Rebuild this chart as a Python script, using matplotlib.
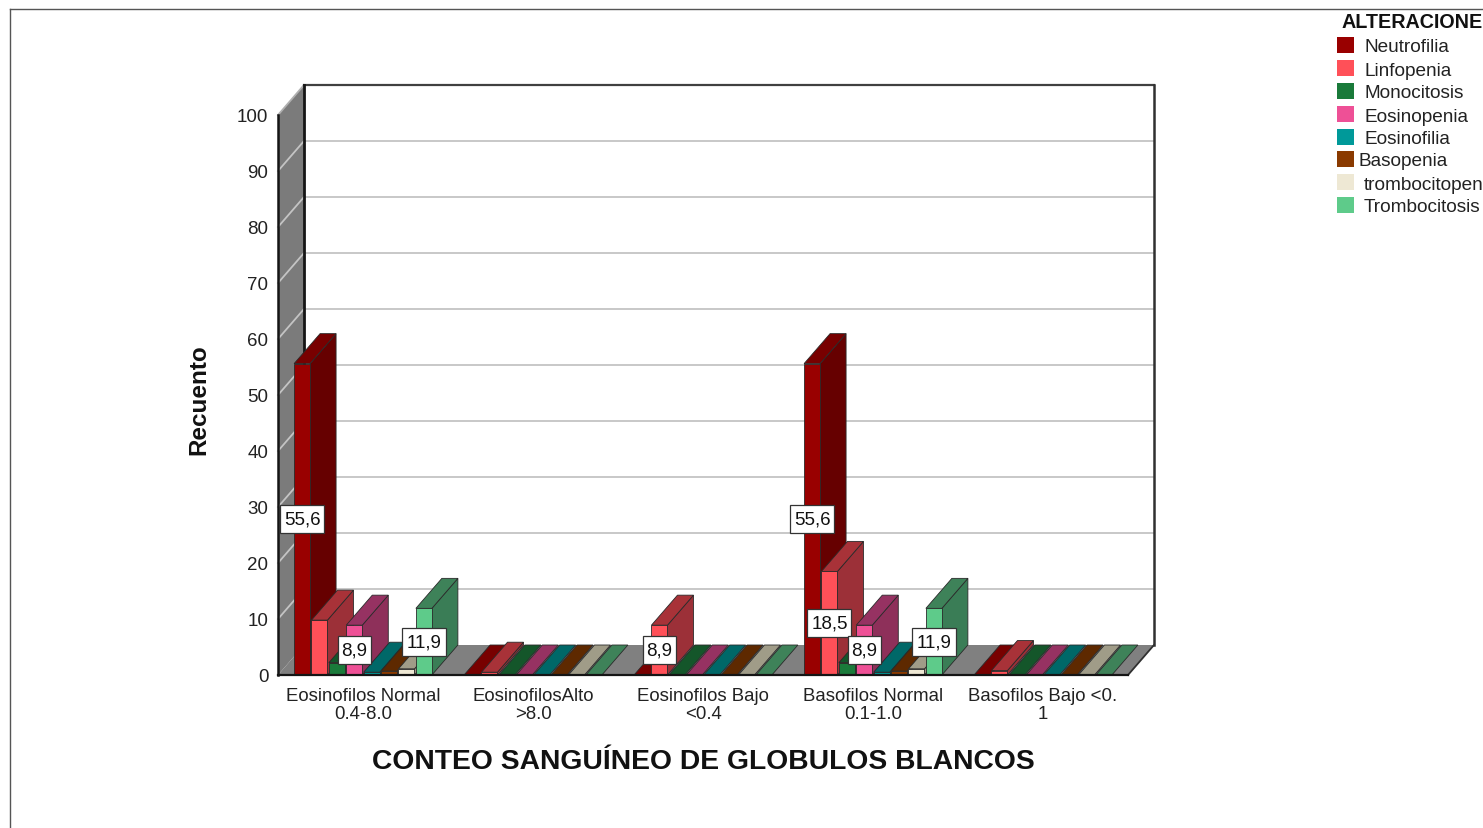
import matplotlib
matplotlib.use("Agg")
import matplotlib.pyplot as plt
from matplotlib.lines import Line2D
from matplotlib.patches import Rectangle

plt.rcParams["font.family"] = ["Liberation Sans", "DejaVu Sans"]

# datos
categorias = ["Eosinofilos Normal\n0.4-8.0", "EosinofilosAlto\n>8.0", "Eosinofilos Bajo\n<0.4",
              "Basofilos Normal\n0.1-1.0", "Basofilos Bajo <0.\n1"]
series = ["Neutrofilia", "Linfopenia", "Monocitosis", "Eosinopenia", "Eosinofilia",
          "Basopenia", "trombocitopen", "Trombocitosis"]
neutrofilia = [55.6, 0, 0, 55.6, 0]
linfopenia = [9.8, 0.5, 8.9, 18.5, 0.8]
monocitosis = [2.2, 0, 0, 2.2, 0]
eosinopenia = [8.9, 0, 0, 8.9, 0]
eosinofilia = [0.5, 0, 0, 0.5, 0]
basopenia = [0.7, 0, 0, 0.7, 0]
trombocitopenia = [1.1, 0, 0, 1.1, 0]
trombocitosis = [11.9, 0, 0, 11.9, 0]
valores = [neutrofilia, linfopenia, monocitosis, eosinopenia, eosinofilia,
           basopenia, trombocitopenia, trombocitosis]

# etiquetas visibles: (serie, categoria)
etiquetas = [(0, 0), (3, 0), (7, 0), (1, 2), (0, 3), (1, 3), (3, 3), (7, 3)]

color_frente = ["#990000", "#ff5058", "#1a7a3a", "#ee5096", "#009999", "#8a3a00", "#eee8d4", "#5ecb8a"]
color_lado = ["#660000", "#9c3038", "#114e26", "#8e305a", "#006262", "#562500", "#99957f", "#3a7d56"]
color_tapa = ["#780000", "#a83238", "#14562a", "#963262", "#006868", "#5e2900", "#a09c88", "#3e8259"]

W, H = 1483, 829
fig = plt.figure(figsize=(W / 100, H / 100), dpi=100)
fig.patch.set_facecolor("white")

# plano frontal del grafico 3D
ax = fig.add_axes([278 / W, 1 - 676 / H, 850 / W, 560 / H])
ax.set_xlim(0, 5)
ax.set_ylim(0, 100)
ax.patch.set_visible(False)
for s in ax.spines.values():
    s.set_visible(False)

DX = 26 / 170  # profundidad en unidades de datos
DY = 30 / 5.6
PASO = 17.4 / 170
ANCHO = 16 / 170
DESPLAZA = 0.004


def poligono(xs, ys, color, edge="#2a2a2a", lw=0.6, z=1):
    ax.fill(xs, ys, facecolor=color, edgecolor=edge, linewidth=lw, clip_on=False, zorder=z)


def linea(xs, ys, color, lw=1.5, z=1.5):
    ax.plot(xs, ys, color=color, linewidth=lw, clip_on=False, zorder=z, solid_capstyle="projecting")


# paredes y piso
poligono([0, DX, DX, 0], [0, DY, 100 + DY, 100], "#7b7b7b", edge="none")
poligono([0, DX, 5 + DX, 5], [0, DY, DY, 0], "#808080", edge="none")

ticks = list(range(0, 101, 10))
for t in ticks[1:-1]:
    linea([DX, 5 + DX], [t + DY, t + DY], "#c4c4c4", lw=1.3)
    linea([0, DX], [t, t + DY], "#c4c4c4", lw=1.3)
linea([0, DX], [100, 100 + DY], "#b0b0b0", lw=1.3)
linea([DX, 5 + DX], [100 + DY, 100 + DY], "#404040", lw=1.6)
linea([DX, DX], [DY, 100 + DY], "#151515", lw=2)
linea([0, 0], [0, 100], "#151515", lw=1.8)
linea([5 + DX, 5 + DX], [DY, 100 + DY], "#303030", lw=1.8)
linea([5, 5 + DX], [0, DY], "#303030", lw=1.3)

# barras en 3D
z = 3
for c in range(len(categorias)):
    for i in range(len(series)):
        x0 = c + 0.5 + (i - 4) * PASO + DESPLAZA
        x1 = x0 + ANCHO
        v = valores[i][c]
        if v > 0:
            poligono([x1, x1 + DX, x1 + DX, x1], [0, DY, v + DY, v], color_lado[i], z=z)
        poligono([x0, x1, x1 + DX, x0 + DX], [v, v, v + DY, v + DY], color_tapa[i], z=z)
        if v > 0:
            poligono([x0, x1, x1, x0], [0, 0, v, v], color_frente[i], z=z + 0.1)
        z += 0.2

linea([0, 5], [0, 0], "#151515", lw=1.6, z=z)

# cuadros de valor
for i, c in etiquetas:
    v = valores[i][c]
    txt = f"{v:.1f}".replace(".", ",")
    x = c + 0.5 + (i - 4) * PASO + DESPLAZA + ANCHO / 2
    caja_w = 11 * len(txt) / 170
    caja_h = 28 / 5.6
    ax.add_patch(Rectangle((x - caja_w / 2, v / 2 - caja_h / 2), caja_w, caja_h, facecolor="white",
                           edgecolor="#333333", linewidth=0.9, clip_on=False, zorder=z + 1))
    ax.text(x, v / 2, txt, ha="center", va="center", fontsize=13.5, color="#111111",
            zorder=z + 2, clip_on=False)

# ejes
ax.set_yticks(ticks)
ax.set_yticklabels([str(t) for t in ticks], fontsize=13.5, color="#222222")
ax.set_xticks([c + 0.5 for c in range(len(categorias))])
ax.set_xticklabels(categorias, fontsize=13.4, color="#222222", linespacing=1.05)
ax.tick_params(axis="both", length=0)
ax.tick_params(axis="y", pad=7)
ax.tick_params(axis="x", pad=9)

fig.text(199 / W, 1 - 400 / H, "Recuento", rotation=90, ha="center", va="center",
         fontsize=17.5, fontweight="bold", color="#111111")
fig.text(703 / W, 1 - 762 / H, "CONTEO SANGUÍNEO DE GLOBULOS BLANCOS", ha="center", va="center",
         fontsize=20.3, fontweight="bold", color="#111111")

# leyenda
fig.text(1341 / W, 1 - 23 / H, "ALTERACIONE", ha="left", va="center", fontsize=14.2,
         fontweight="bold", color="#111111")
filas_y = [46, 69, 92, 115, 138, 160, 183, 206]
texto_x = [1364, 1364, 1364, 1364, 1364, 1358, 1364, 1364]
for i, nombre in enumerate(series):
    fig.add_artist(Rectangle((1337 / W, 1 - (filas_y[i] + 8) / H), 17 / W, 16 / H,
                             transform=fig.transFigure, facecolor=color_frente[i], edgecolor="none"))
    fig.text(texto_x[i] / W, 1 - (filas_y[i] + 2) / H, nombre, ha="left", va="center",
             fontsize=13.7, color="#222222")

# marco de la imagen
fig.add_artist(Line2D([10 / W, 10 / W], [0, 1 - 10 / H], color="#555555", linewidth=1))
fig.add_artist(Line2D([10 / W, 1], [1 - 10 / H, 1 - 10 / H], color="#555555", linewidth=1))

fig.savefig("out.png", dpi=100)
